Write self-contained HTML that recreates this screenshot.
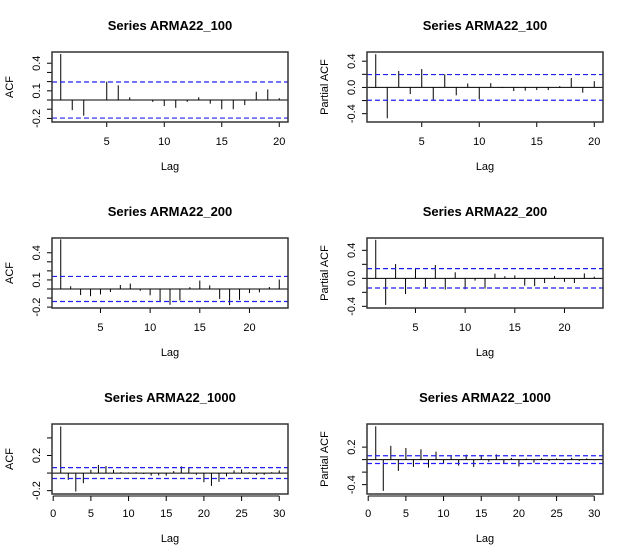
<!DOCTYPE html>
<html><head><meta charset="utf-8"><style>
html,body{margin:0;padding:0;background:#fff}
svg{display:block}
text{font-family:"Liberation Sans",Arial,sans-serif;fill:#000}
</style></head><body>
<svg id="chart" width="630" height="558" viewBox="0 0 630 558" xmlns="http://www.w3.org/2000/svg"></svg>
<script>
// ---- data ----
const acf100 = [0.50,-0.11,-0.17,0.005,0.20,0.16,0.03,-0.005,-0.02,-0.065,-0.085,-0.02,0.03,-0.04,-0.10,-0.10,-0.055,0.09,0.115,0.02];
const pacf100 = [0.506,-0.47,0.25,-0.10,0.28,-0.19,0.20,-0.12,0.06,-0.18,0.065,-0.01,-0.055,-0.05,-0.04,-0.04,0.02,0.145,-0.08,0.095];
const acf200 = [0.548,0.03,-0.067,-0.08,-0.06,-0.033,0.044,0.06,-0.02,-0.07,-0.137,-0.174,-0.126,0.02,0.093,0.04,-0.11,-0.178,-0.12,-0.045,-0.037,0.022,0.104];
const pacf200 = [0.55,-0.38,0.205,-0.224,0.148,-0.143,0.19,-0.16,0.086,-0.157,-0.033,-0.148,0.067,0.03,0.043,-0.105,-0.11,-0.067,0.033,-0.052,-0.067,0.071,0.024];
const acf1000 = [0.53,-0.077,-0.21,-0.115,0.038,0.092,0.08,0.038,0.01,0.008,0.01,-0.01,-0.03,-0.027,-0.03,0.023,0.077,0.06,-0.02,-0.104,-0.146,-0.1,-0.038,0.03,0.042,0.01,-0.023,-0.02,0.01,0.03];
const pacf1000 = [0.533,-0.5,0.22,-0.18,0.187,-0.117,0.165,-0.128,0.128,-0.07,0.07,-0.096,0.08,-0.117,0.075,-0.032,0.085,-0.064,0.027,-0.11,0.016,-0.048,0.02,-0.02,0.02,-0.02,0.03,-0.02,0.02,-0.01];
const ciLevels = [0.196, 0.196, 0.1386, 0.1386, 0.062, 0.062];
const titles = ["Series ARMA22_100","Series  ARMA22_100","Series ARMA22_200","Series  ARMA22_200","Series ARMA22_1000","Series  ARMA22_1000"];
const yTicks100a = [-0.2,-0.1,0,0.1,0.2,0.3,0.4];
const yLabels100a = ["-0.2","0.1","0.4"];
const yTicksP = [-0.4,-0.2,0,0.2,0.4];
const yLabelsP = ["-0.4","0.0","0.4"];
const yTicks1000a = [-0.2,0,0.2,0.4];
const yLabels1000a = ["-0.2","0.2"];
const yTicks1000p = [-0.4,-0.2,0,0.2];
const yLabels1000p = ["-0.4","0.2"];
const xTicksShort = [5,10,15,20];
const xTicksLong = [0,5,10,15,20,25,30];

const panels = [
 {vals:acf100, ox:0, oy:0, xlim:[0.24,20.76], ylim:[-0.239,0.522], yt:yTicks100a, yl:yLabels100a, xt:xTicksShort, ylab:"ACF", ci:ciLevels[0], title:titles[0], name:"acf-100"},
 {vals:pacf100, ox:315, oy:0, xlim:[0.24,20.76], ylim:[-0.527,0.54], yt:yTicksP, yl:yLabelsP, xt:xTicksShort, ylab:"Partial ACF", ci:ciLevels[1], title:titles[1], name:"pacf-100"},
 {vals:acf200, ox:0, oy:186, xlim:[0.12,23.88], ylim:[-0.21,0.563], yt:yTicks100a, yl:yLabels100a, xt:xTicksShort, ylab:"ACF", ci:ciLevels[2], title:titles[2], name:"acf-200"},
 {vals:pacf200, ox:315, oy:186, xlim:[0.12,23.88], ylim:[-0.424,0.576], yt:yTicksP, yl:yLabelsP, xt:xTicksShort, ylab:"Partial ACF", ci:ciLevels[3], title:titles[3], name:"pacf-200"},
 {vals:acf1000, ox:0, oy:372, xlim:[-0.16,31.16], ylim:[-0.238,0.558], yt:yTicks1000a, yl:yLabels1000a, xt:xTicksLong, ylab:"ACF", ci:ciLevels[4], title:titles[4], name:"acf-1000"},
 {vals:pacf1000, ox:315, oy:372, xlim:[-0.16,31.16], ylim:[-0.55,0.57], yt:yTicks1000p, yl:yLabels1000p, xt:xTicksLong, ylab:"Partial ACF", ci:ciLevels[5], title:titles[5], name:"pacf-1000"}
];

const NS="http://www.w3.org/2000/svg";
const svg=document.getElementById('chart');
function mk(tag, attrs, parent){const e=document.createElementNS(NS,tag);for(const k in attrs)e.setAttribute(k,attrs[k]);(parent||svg).appendChild(e);return e;}

panels.forEach(p=>{
  const g=mk('g',{});
  
  
  const L=p.ox+52, R=p.ox+288, T=p.oy+52, B=p.oy+122;
  const xs=v=>L+(v-p.xlim[0])/(p.xlim[1]-p.xlim[0])*(R-L);
  const ys=v=>B-(v-p.ylim[0])/(p.ylim[1]-p.ylim[0])*(B-T);
  const t=mk('text',{x:p.ox+170,y:p.oy+30,'text-anchor':'middle','font-size':'13','font-weight':'bold'},g);
  t.textContent=p.title;
  
  
  const axY = p.xt[0]===0 ? B+2 : B;
  p.xt.forEach(v=>{
    const tk=mk('line',{x1:xs(v),x2:xs(v),y1:axY,y2:axY+5,stroke:'#000','stroke-width':1},g);
    
    
    const tl=mk('text',{x:xs(v),y:B+23,'text-anchor':'middle','font-size':'11'},g);
    tl.textContent=String(v);
    
    
  });
  if(p.xt[0]===0){
    const al=mk('line',{x1:xs(p.xt[0]),x2:xs(p.xt[p.xt.length-1]),y1:axY,y2:axY,stroke:'#000','stroke-width':1},g);
    
    
  }
  const xl=mk('text',{x:p.ox+170,y:p.oy+170,'text-anchor':'middle','font-size':'11'},g);
  xl.textContent="Lag";
  
  
  p.yt.forEach(v=>{
    const tk=mk('line',{x1:L-5,x2:L,y1:ys(v),y2:ys(v),stroke:'#000','stroke-width':1},g);
    
    
  });
  p.yl.forEach(s=>{
    const v=parseFloat(s);
    const tl=mk('text',{x:0,y:0,'text-anchor':'middle','font-size':'11',transform:`translate(${L-12},${ys(v)}) rotate(-90)`},g);
    tl.textContent=s;
    
    
  });
  const yl=mk('text',{x:0,y:0,'text-anchor':'middle','font-size':'11',transform:`translate(${p.ox+13},${(T+B)/2}) rotate(-90)`},g);
  yl.textContent=p.ylab;
  
  
  const z=mk('line',{x1:L,x2:R,y1:ys(0),y2:ys(0),stroke:'#000','stroke-width':1},g);
  
  
  p.vals.forEach((v,i)=>{
    const lag=i+1;
    const b=mk('line',{x1:xs(lag),x2:xs(lag),y1:ys(0),y2:ys(v),stroke:'#000','stroke-width':1},g);
    
    
  });
  [p.ci,-p.ci].forEach(c=>{
    const l=mk('line',{x1:L,x2:R,y1:ys(c),y2:ys(c),stroke:'#2020ff','stroke-width':1.2,'stroke-dasharray':'5,3'},g);
    
    
  });
  const bx=mk('rect',{x:L,y:T,width:R-L,height:B-T,fill:'none',stroke:'#333','stroke-width':1.5},g);
  
  
});
</script>
</body></html>
